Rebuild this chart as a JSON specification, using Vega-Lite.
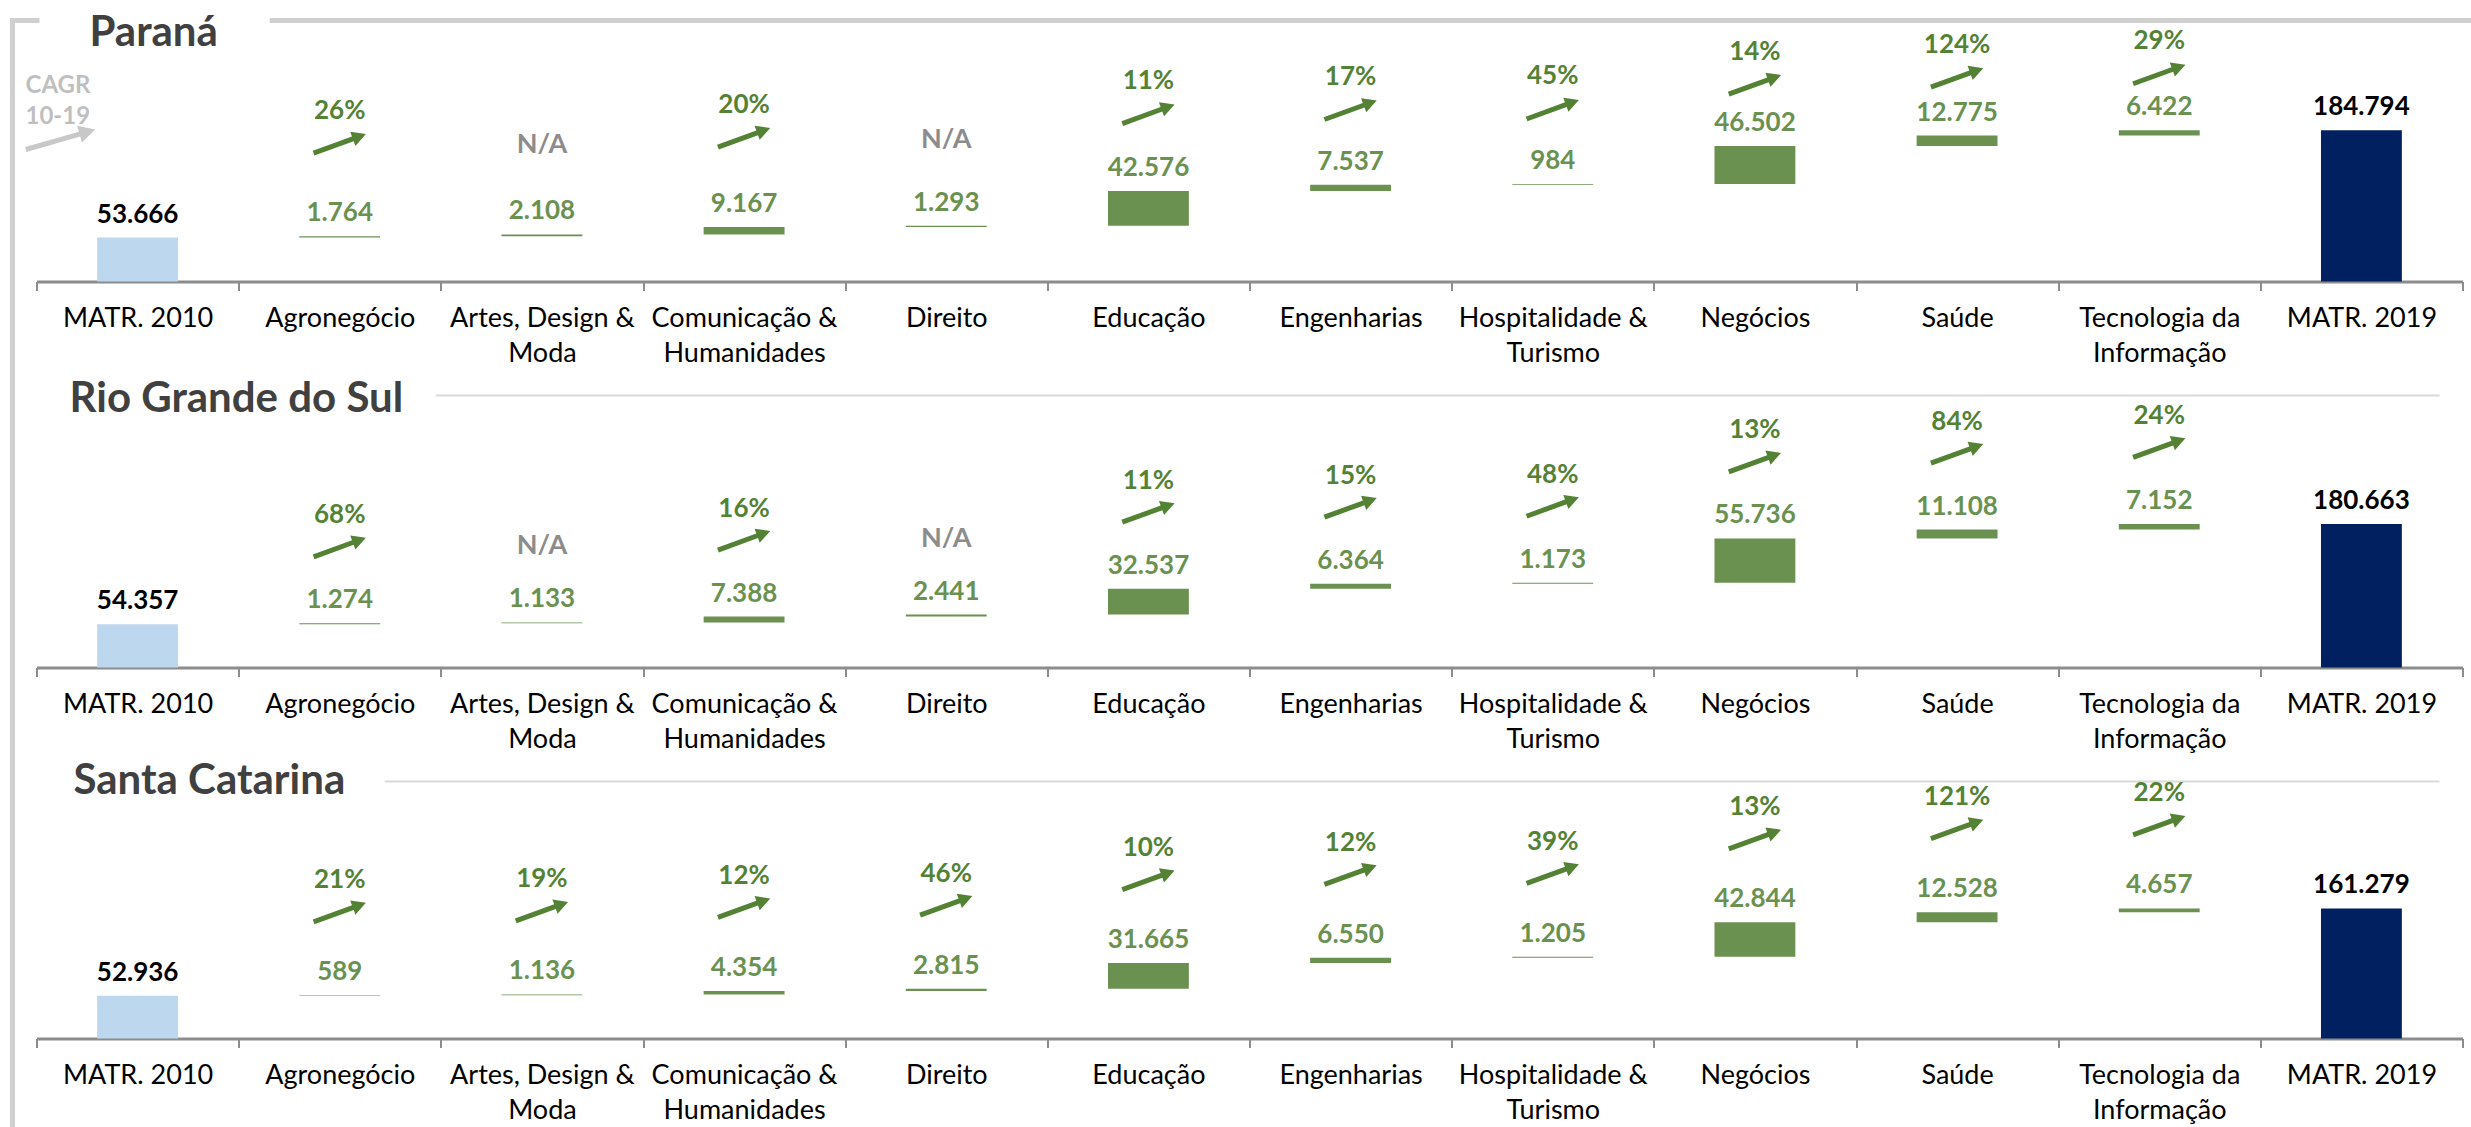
{
  "$schema": "https://vega.github.io/schema/vega-lite/v6.json",
  "background": "white",
  "padding": {"left": 7.5, "top": 11.5, "right": 0, "bottom": 0},
  "autosize": {"type": "pad"},
  "config": {
    "locale": {"number": {"decimal": ",", "thousands": ".", "grouping": [3], "currency": ["R$", ""]}},
    "view": {"stroke": null},
    "font": "Lato",
    "text": {"font": "Lato"}
  },
  "bounds": "flush",
  "spacing": 114,
  "resolve": {"scale": {"x": "independent", "y": "independent"}},
  "datasets": {
    "d": [
      {"state": "Paraná", "cat": "MATR. 2010", "kind": "start", "amount": 53666, "cagr": null},
      {"state": "Paraná", "cat": "Agronegócio", "kind": "delta", "amount": 1764, "cagr": 0.26},
      {"state": "Paraná", "cat": "Artes, Design & Moda", "kind": "delta", "amount": 2108, "cagr": null},
      {"state": "Paraná", "cat": "Comunicação & Humanidades", "kind": "delta", "amount": 9167, "cagr": 0.20},
      {"state": "Paraná", "cat": "Direito", "kind": "delta", "amount": 1293, "cagr": null},
      {"state": "Paraná", "cat": "Educação", "kind": "delta", "amount": 42576, "cagr": 0.11},
      {"state": "Paraná", "cat": "Engenharias", "kind": "delta", "amount": 7537, "cagr": 0.17},
      {"state": "Paraná", "cat": "Hospitalidade & Turismo", "kind": "delta", "amount": 984, "cagr": 0.45},
      {"state": "Paraná", "cat": "Negócios", "kind": "delta", "amount": 46502, "cagr": 0.14},
      {"state": "Paraná", "cat": "Saúde", "kind": "delta", "amount": 12775, "cagr": 1.24},
      {"state": "Paraná", "cat": "Tecnologia da Informação", "kind": "delta", "amount": 6422, "cagr": 0.29},
      {"state": "Paraná", "cat": "MATR. 2019", "kind": "end", "amount": 184794, "cagr": null},
      {"state": "Rio Grande do Sul", "cat": "MATR. 2010", "kind": "start", "amount": 54357, "cagr": null},
      {"state": "Rio Grande do Sul", "cat": "Agronegócio", "kind": "delta", "amount": 1274, "cagr": 0.68},
      {"state": "Rio Grande do Sul", "cat": "Artes, Design & Moda", "kind": "delta", "amount": 1133, "cagr": null},
      {"state": "Rio Grande do Sul", "cat": "Comunicação & Humanidades", "kind": "delta", "amount": 7388, "cagr": 0.16},
      {"state": "Rio Grande do Sul", "cat": "Direito", "kind": "delta", "amount": 2441, "cagr": null},
      {"state": "Rio Grande do Sul", "cat": "Educação", "kind": "delta", "amount": 32537, "cagr": 0.11},
      {"state": "Rio Grande do Sul", "cat": "Engenharias", "kind": "delta", "amount": 6364, "cagr": 0.15},
      {"state": "Rio Grande do Sul", "cat": "Hospitalidade & Turismo", "kind": "delta", "amount": 1173, "cagr": 0.48},
      {"state": "Rio Grande do Sul", "cat": "Negócios", "kind": "delta", "amount": 55736, "cagr": 0.13},
      {"state": "Rio Grande do Sul", "cat": "Saúde", "kind": "delta", "amount": 11108, "cagr": 0.84},
      {"state": "Rio Grande do Sul", "cat": "Tecnologia da Informação", "kind": "delta", "amount": 7152, "cagr": 0.24},
      {"state": "Rio Grande do Sul", "cat": "MATR. 2019", "kind": "end", "amount": 180663, "cagr": null},
      {"state": "Santa Catarina", "cat": "MATR. 2010", "kind": "start", "amount": 52936, "cagr": null},
      {"state": "Santa Catarina", "cat": "Agronegócio", "kind": "delta", "amount": 589, "cagr": 0.21},
      {"state": "Santa Catarina", "cat": "Artes, Design & Moda", "kind": "delta", "amount": 1136, "cagr": 0.19},
      {"state": "Santa Catarina", "cat": "Comunicação & Humanidades", "kind": "delta", "amount": 4354, "cagr": 0.12},
      {"state": "Santa Catarina", "cat": "Direito", "kind": "delta", "amount": 2815, "cagr": 0.46},
      {"state": "Santa Catarina", "cat": "Educação", "kind": "delta", "amount": 31665, "cagr": 0.10},
      {"state": "Santa Catarina", "cat": "Engenharias", "kind": "delta", "amount": 6550, "cagr": 0.12},
      {"state": "Santa Catarina", "cat": "Hospitalidade & Turismo", "kind": "delta", "amount": 1205, "cagr": 0.39},
      {"state": "Santa Catarina", "cat": "Negócios", "kind": "delta", "amount": 42844, "cagr": 0.13},
      {"state": "Santa Catarina", "cat": "Saúde", "kind": "delta", "amount": 12528, "cagr": 1.21},
      {"state": "Santa Catarina", "cat": "Tecnologia da Informação", "kind": "delta", "amount": 4657, "cagr": 0.22},
      {"state": "Santa Catarina", "cat": "MATR. 2019", "kind": "end", "amount": 161279, "cagr": null}
    ]
  },
  "vconcat": [
    {
      "width": 2426, "height": 261,
      "data": {"name": "d"},
      "transform": [
        {"filter": "datum.state == 'Paraná'"},
        {"window": [{"op": "sum", "field": "amount", "as": "cum"}], "frame": [null, 0]},
        {"calculate": "datum.kind == 'end' ? datum.amount : datum.cum", "as": "hi"},
        {"calculate": "datum.kind == 'delta' ? datum.cum - datum.amount : 0", "as": "lo"}
      ],
      "encoding": {
        "x": {"field": "cat", "type": "nominal", "sort": null,
          "scale": {"domain": ["MATR. 2010", "Agronegócio", "Artes, Design & Moda", "Comunicação & Humanidades", "Direito", "Educação", "Engenharias", "Hospitalidade & Turismo", "Negócios", "Saúde", "Tecnologia da Informação", "MATR. 2019"], "paddingInner": 0, "paddingOuter": 0},
          "axis": {"title": null, "labelAngle": 0, "labelFont": "Lato", "labelFontSize": 27, "labelColor": "#000000", "labelPadding": 15, "labelLineHeight": 35, "labelOverlap": false, "labelLimit": 0, "tickBand": "extent", "tickSize": 9, "tickWidth": 2, "tickColor": "#8C8C8C", "domainColor": "#8C8C8C", "domainWidth": 3, "grid": false,
            "labelExpr": "split(replace(replace(datum.label, '& ', '&|'), 'da ', 'da|'), '|')"}}
      },
      "resolve": {"scale": {"y": "independent"}},
      "layer": [
        {"data": {"values": [{}]},
         "mark": {"type": "rule", "color": "#D0D0D0", "strokeWidth": 5, "xOffset": -24},
         "encoding": {"x": {"datum": "MATR. 2010", "bandPosition": 0},
           "y": {"datum": 322000, "type": "quantitative", "scale": {"domain": [0, 319000], "nice": false, "zero": false}, "axis": null},
           "y2": {"datum": -139300}}},
        {"data": {"values": [{}]},
         "mark": {"type": "rule", "color": "#D0D0D0", "strokeWidth": 5, "xOffset": -26.5, "x2Offset": 3},
         "encoding": {"x": {"datum": "MATR. 2010", "bandPosition": 0},
           "x2": {"datum": "MATR. 2010", "bandPosition": 0},
           "y": {"datum": 319000, "type": "quantitative", "scale": {"domain": [0, 319000], "nice": false, "zero": false}, "axis": null}}},
        {"data": {"values": [{}]},
         "mark": {"type": "rule", "color": "#D0D0D0", "strokeWidth": 5, "xOffset": 31, "x2Offset": 11},
         "encoding": {"x": {"datum": "Agronegócio", "bandPosition": 0},
           "x2": {"datum": "MATR. 2019", "bandPosition": 1},
           "y": {"datum": 319000, "type": "quantitative", "scale": {"domain": [0, 319000], "nice": false, "zero": false}, "axis": null}}},
        {"data": {"values": [{}]},
         "mark": {"type": "text", "text": "Paraná", "align": "left", "baseline": "middle", "xOffset": 53, "dy": 12.5, "fontSize": 42, "fontWeight": "bold", "color": "#404040"},
         "encoding": {"x": {"datum": "MATR. 2010", "bandPosition": 0},
           "y": {"datum": 319000, "type": "quantitative", "scale": {"domain": [0, 319000], "nice": false, "zero": false}, "axis": null}}},
        {"data": {"values": [{}]},
         "mark": {"type": "text", "text": ["CAGR", "10-19"], "align": "left", "baseline": "alphabetic", "lineHeight": 31, "xOffset": -11, "fontSize": 24, "fontWeight": "bold", "color": "#BFBFBF"},
         "encoding": {"x": {"datum": "MATR. 2010", "bandPosition": 0},
           "y": {"datum": 231000, "type": "quantitative", "scale": {"domain": [0, 319000], "nice": false, "zero": false}, "axis": null}}},
        {"data": {"values": [{}]},
         "mark": {"type": "point", "shape": "M-1,-0.07L0.55,-0.07L0.55,-0.24L1,0L0.55,0.24L0.55,0.07L-1,0.07Z", "angle": -16, "size": 5200, "filled": true, "opacity": 1, "strokeWidth": 0, "color": "#C8C8C8", "xOffset": 24},
         "encoding": {"x": {"datum": "MATR. 2010", "bandPosition": 0},
           "y": {"datum": 173500, "type": "quantitative", "scale": {"domain": [0, 319000], "nice": false, "zero": false}, "axis": null}}},
        {"mark": {"type": "bar", "width": {"band": 0.4}},
         "encoding": {
           "y": {"field": "hi", "type": "quantitative", "scale": {"domain": [0, 319000], "nice": false, "zero": false}, "axis": null},
           "y2": {"field": "lo"},
           "color": {"field": "kind", "type": "nominal", "scale": {"domain": ["start", "delta", "end"], "range": ["#BDD7EE", "#6A9150", "#002060"]}, "legend": null}}},
        {"mark": {"type": "text", "dy": -23, "baseline": "middle", "fontSize": 26, "fontWeight": "bold"},
         "encoding": {
           "y": {"field": "hi", "type": "quantitative", "scale": {"domain": [0, 319000], "nice": false, "zero": false}, "axis": null},
           "text": {"field": "amount", "type": "quantitative", "format": ",d"},
           "color": {"condition": {"test": "datum.kind == 'delta'", "value": "#6A9150"}, "value": "#000000"}}},
        {"transform": [{"filter": "datum.kind == 'delta' && isValid(datum.cagr)"}],
         "mark": {"type": "text", "baseline": "middle", "fontSize": 26, "fontWeight": "bold", "color": "#548235"},
         "encoding": {
           "y": {"field": "hi", "type": "quantitative", "scale": {"domain": [-263420, 223500], "nice": false, "zero": false}, "axis": null},
           "text": {"field": "cagr", "type": "quantitative", "format": ".0%"}}},
        {"transform": [{"filter": "datum.kind == 'delta' && isValid(datum.cagr)"}],
         "mark": {"type": "point", "shape": "M-1,-0.09L0.5,-0.09L0.5,-0.27L1,0L0.5,0.27L0.5,0.09L-1,0.09Z", "angle": -20, "size": 3100, "filled": true, "opacity": 1, "strokeWidth": 0, "color": "#548235", "yOffset": 33},
         "encoding": {
           "y": {"field": "hi", "type": "quantitative", "scale": {"domain": [-263420, 223500], "nice": false, "zero": false}, "axis": null}}},
        {"transform": [{"filter": "datum.kind == 'delta' && !isValid(datum.cagr)"}],
         "mark": {"type": "text", "text": "N/A", "baseline": "middle", "dy": 36, "fontSize": 27, "fontWeight": "bold", "color": "#8C8C8C"},
         "encoding": {
           "y": {"field": "hi", "type": "quantitative", "scale": {"domain": [-263420, 223500], "nice": false, "zero": false}, "axis": null}}}
      ]
    },
    {
      "width": 2426, "height": 272,
      "data": {"name": "d"},
      "transform": [
        {"filter": "datum.state == 'Rio Grande do Sul'"},
        {"window": [{"op": "sum", "field": "amount", "as": "cum"}], "frame": [null, 0]},
        {"calculate": "datum.kind == 'end' ? datum.amount : datum.cum", "as": "hi"},
        {"calculate": "datum.kind == 'delta' ? datum.cum - datum.amount : 0", "as": "lo"}
      ],
      "encoding": {
        "x": {"field": "cat", "type": "nominal", "sort": null,
          "scale": {"domain": ["MATR. 2010", "Agronegócio", "Artes, Design & Moda", "Comunicação & Humanidades", "Direito", "Educação", "Engenharias", "Hospitalidade & Turismo", "Negócios", "Saúde", "Tecnologia da Informação", "MATR. 2019"], "paddingInner": 0, "paddingOuter": 0},
          "axis": {"title": null, "labelAngle": 0, "labelFont": "Lato", "labelFontSize": 27, "labelColor": "#000000", "labelPadding": 15, "labelLineHeight": 35, "labelOverlap": false, "labelLimit": 0, "tickBand": "extent", "tickSize": 9, "tickWidth": 2, "tickColor": "#8C8C8C", "domainColor": "#8C8C8C", "domainWidth": 3, "grid": false,
            "labelExpr": "split(replace(replace(datum.label, '& ', '&|'), 'da ', 'da|'), '|')"}}
      },
      "resolve": {"scale": {"y": "independent"}},
      "layer": [
        {"data": {"values": [{}]},
         "mark": {"type": "rule", "color": "#D0D0D0", "strokeWidth": 5, "xOffset": -24},
         "encoding": {"x": {"datum": "MATR. 2010", "bandPosition": 0},
           "y": {"datum": 345950, "type": "quantitative", "scale": {"domain": [0, 342176], "nice": false, "zero": false}, "axis": null},
           "y2": {"datum": -143412}}},
        {"data": {"values": [{}]},
         "mark": {"type": "rule", "color": "#D9D9D9", "strokeWidth": 2, "xOffset": -5, "x2Offset": -23},
         "encoding": {"x": {"datum": "Artes, Design & Moda", "bandPosition": 0},
           "x2": {"datum": "MATR. 2019", "bandPosition": 1},
           "y": {"datum": 342176, "type": "quantitative", "scale": {"domain": [0, 342176], "nice": false, "zero": false}, "axis": null}}},
        {"data": {"values": [{}]},
         "mark": {"type": "text", "text": "Rio Grande do Sul", "align": "left", "baseline": "middle", "xOffset": 33, "dy": 3, "fontSize": 42, "fontWeight": "bold", "color": "#404040"},
         "encoding": {"x": {"datum": "MATR. 2010", "bandPosition": 0},
           "y": {"datum": 342176, "type": "quantitative", "scale": {"domain": [0, 342176], "nice": false, "zero": false}, "axis": null}}},
        {"mark": {"type": "bar", "width": {"band": 0.4}},
         "encoding": {
           "y": {"field": "hi", "type": "quantitative", "scale": {"domain": [0, 342176], "nice": false, "zero": false}, "axis": null},
           "y2": {"field": "lo"},
           "color": {"field": "kind", "type": "nominal", "scale": {"domain": ["start", "delta", "end"], "range": ["#BDD7EE", "#6A9150", "#002060"]}, "legend": null}}},
        {"mark": {"type": "text", "dy": -23, "baseline": "middle", "fontSize": 26, "fontWeight": "bold"},
         "encoding": {
           "y": {"field": "hi", "type": "quantitative", "scale": {"domain": [0, 342176], "nice": false, "zero": false}, "axis": null},
           "text": {"field": "amount", "type": "quantitative", "format": ",d"},
           "color": {"condition": {"test": "datum.kind == 'delta'", "value": "#6A9150"}, "value": "#000000"}}},
        {"transform": [{"filter": "datum.kind == 'delta' && isValid(datum.cagr)"}],
         "mark": {"type": "text", "baseline": "middle", "fontSize": 26, "fontWeight": "bold", "color": "#548235"},
         "encoding": {
           "y": {"field": "hi", "type": "quantitative", "scale": {"domain": [-135864, 206312], "nice": false, "zero": false}, "axis": null},
           "text": {"field": "cagr", "type": "quantitative", "format": ".0%"}}},
        {"transform": [{"filter": "datum.kind == 'delta' && isValid(datum.cagr)"}],
         "mark": {"type": "point", "shape": "M-1,-0.09L0.5,-0.09L0.5,-0.27L1,0L0.5,0.27L0.5,0.09L-1,0.09Z", "angle": -20, "size": 3100, "filled": true, "opacity": 1, "strokeWidth": 0, "color": "#548235", "yOffset": 32},
         "encoding": {
           "y": {"field": "hi", "type": "quantitative", "scale": {"domain": [-135864, 206312], "nice": false, "zero": false}, "axis": null}}},
        {"transform": [{"filter": "datum.kind == 'delta' && !isValid(datum.cagr)"}],
         "mark": {"type": "text", "text": "N/A", "baseline": "middle", "dy": 32, "fontSize": 27, "fontWeight": "bold", "color": "#8C8C8C"},
         "encoding": {
           "y": {"field": "hi", "type": "quantitative", "scale": {"domain": [-135864, 206312], "nice": false, "zero": false}, "axis": null}}}
      ]
    },
    {
      "width": 2426, "height": 257,
      "data": {"name": "d"},
      "transform": [
        {"filter": "datum.state == 'Santa Catarina'"},
        {"window": [{"op": "sum", "field": "amount", "as": "cum"}], "frame": [null, 0]},
        {"calculate": "datum.kind == 'end' ? datum.amount : datum.cum", "as": "hi"},
        {"calculate": "datum.kind == 'delta' ? datum.cum - datum.amount : 0", "as": "lo"}
      ],
      "encoding": {
        "x": {"field": "cat", "type": "nominal", "sort": null,
          "scale": {"domain": ["MATR. 2010", "Agronegócio", "Artes, Design & Moda", "Comunicação & Humanidades", "Direito", "Educação", "Engenharias", "Hospitalidade & Turismo", "Negócios", "Saúde", "Tecnologia da Informação", "MATR. 2019"], "paddingInner": 0, "paddingOuter": 0},
          "axis": {"title": null, "labelAngle": 0, "labelFont": "Lato", "labelFontSize": 27, "labelColor": "#000000", "labelPadding": 15, "labelLineHeight": 35, "labelOverlap": false, "labelLimit": 0, "tickBand": "extent", "tickSize": 9, "tickWidth": 2, "tickColor": "#8C8C8C", "domainColor": "#8C8C8C", "domainWidth": 3, "grid": false,
            "labelExpr": "split(replace(replace(datum.label, '& ', '&|'), 'da ', 'da|'), '|')"}}
      },
      "resolve": {"scale": {"y": "independent"}},
      "layer": [
        {"data": {"values": [{}]},
         "mark": {"type": "rule", "color": "#D0D0D0", "strokeWidth": 5, "xOffset": -24},
         "encoding": {"x": {"datum": "MATR. 2010", "bandPosition": 0},
           "y": {"datum": 322400, "type": "quantitative", "scale": {"domain": [0, 318680], "nice": false, "zero": false}, "axis": null},
           "y2": {"datum": -124000}}},
        {"data": {"values": [{}]},
         "mark": {"type": "rule", "color": "#D9D9D9", "strokeWidth": 2, "xOffset": 146, "x2Offset": -23},
         "encoding": {"x": {"datum": "Agronegócio", "bandPosition": 0},
           "x2": {"datum": "MATR. 2019", "bandPosition": 1},
           "y": {"datum": 318680, "type": "quantitative", "scale": {"domain": [0, 318680], "nice": false, "zero": false}, "axis": null}}},
        {"data": {"values": [{}]},
         "mark": {"type": "text", "text": "Santa Catarina", "align": "left", "baseline": "middle", "xOffset": 37, "dy": -1, "fontSize": 42, "fontWeight": "bold", "color": "#404040"},
         "encoding": {"x": {"datum": "MATR. 2010", "bandPosition": 0},
           "y": {"datum": 318680, "type": "quantitative", "scale": {"domain": [0, 318680], "nice": false, "zero": false}, "axis": null}}},
        {"mark": {"type": "bar", "width": {"band": 0.4}},
         "encoding": {
           "y": {"field": "hi", "type": "quantitative", "scale": {"domain": [0, 318680], "nice": false, "zero": false}, "axis": null},
           "y2": {"field": "lo"},
           "color": {"field": "kind", "type": "nominal", "scale": {"domain": ["start", "delta", "end"], "range": ["#BDD7EE", "#6A9150", "#002060"]}, "legend": null}}},
        {"mark": {"type": "text", "dy": -23, "baseline": "middle", "fontSize": 26, "fontWeight": "bold"},
         "encoding": {
           "y": {"field": "hi", "type": "quantitative", "scale": {"domain": [0, 318680], "nice": false, "zero": false}, "axis": null},
           "text": {"field": "amount", "type": "quantitative", "format": ",d"},
           "color": {"condition": {"test": "datum.kind == 'delta'", "value": "#6A9150"}, "value": "#000000"}}},
        {"transform": [{"filter": "datum.kind == 'delta' && isValid(datum.cagr)"}],
         "mark": {"type": "text", "baseline": "middle", "fontSize": 26, "fontWeight": "bold", "color": "#548235"},
         "encoding": {
           "y": {"field": "hi", "type": "quantitative", "scale": {"domain": [-142600, 176080], "nice": false, "zero": false}, "axis": null},
           "text": {"field": "cagr", "type": "quantitative", "format": ".0%"}}},
        {"transform": [{"filter": "datum.kind == 'delta' && isValid(datum.cagr)"}],
         "mark": {"type": "point", "shape": "M-1,-0.09L0.5,-0.09L0.5,-0.27L1,0L0.5,0.27L0.5,0.09L-1,0.09Z", "angle": -20, "size": 3100, "filled": true, "opacity": 1, "strokeWidth": 0, "color": "#548235", "yOffset": 32},
         "encoding": {
           "y": {"field": "hi", "type": "quantitative", "scale": {"domain": [-142600, 176080], "nice": false, "zero": false}, "axis": null}}}
      ]
    }
  ]
}
